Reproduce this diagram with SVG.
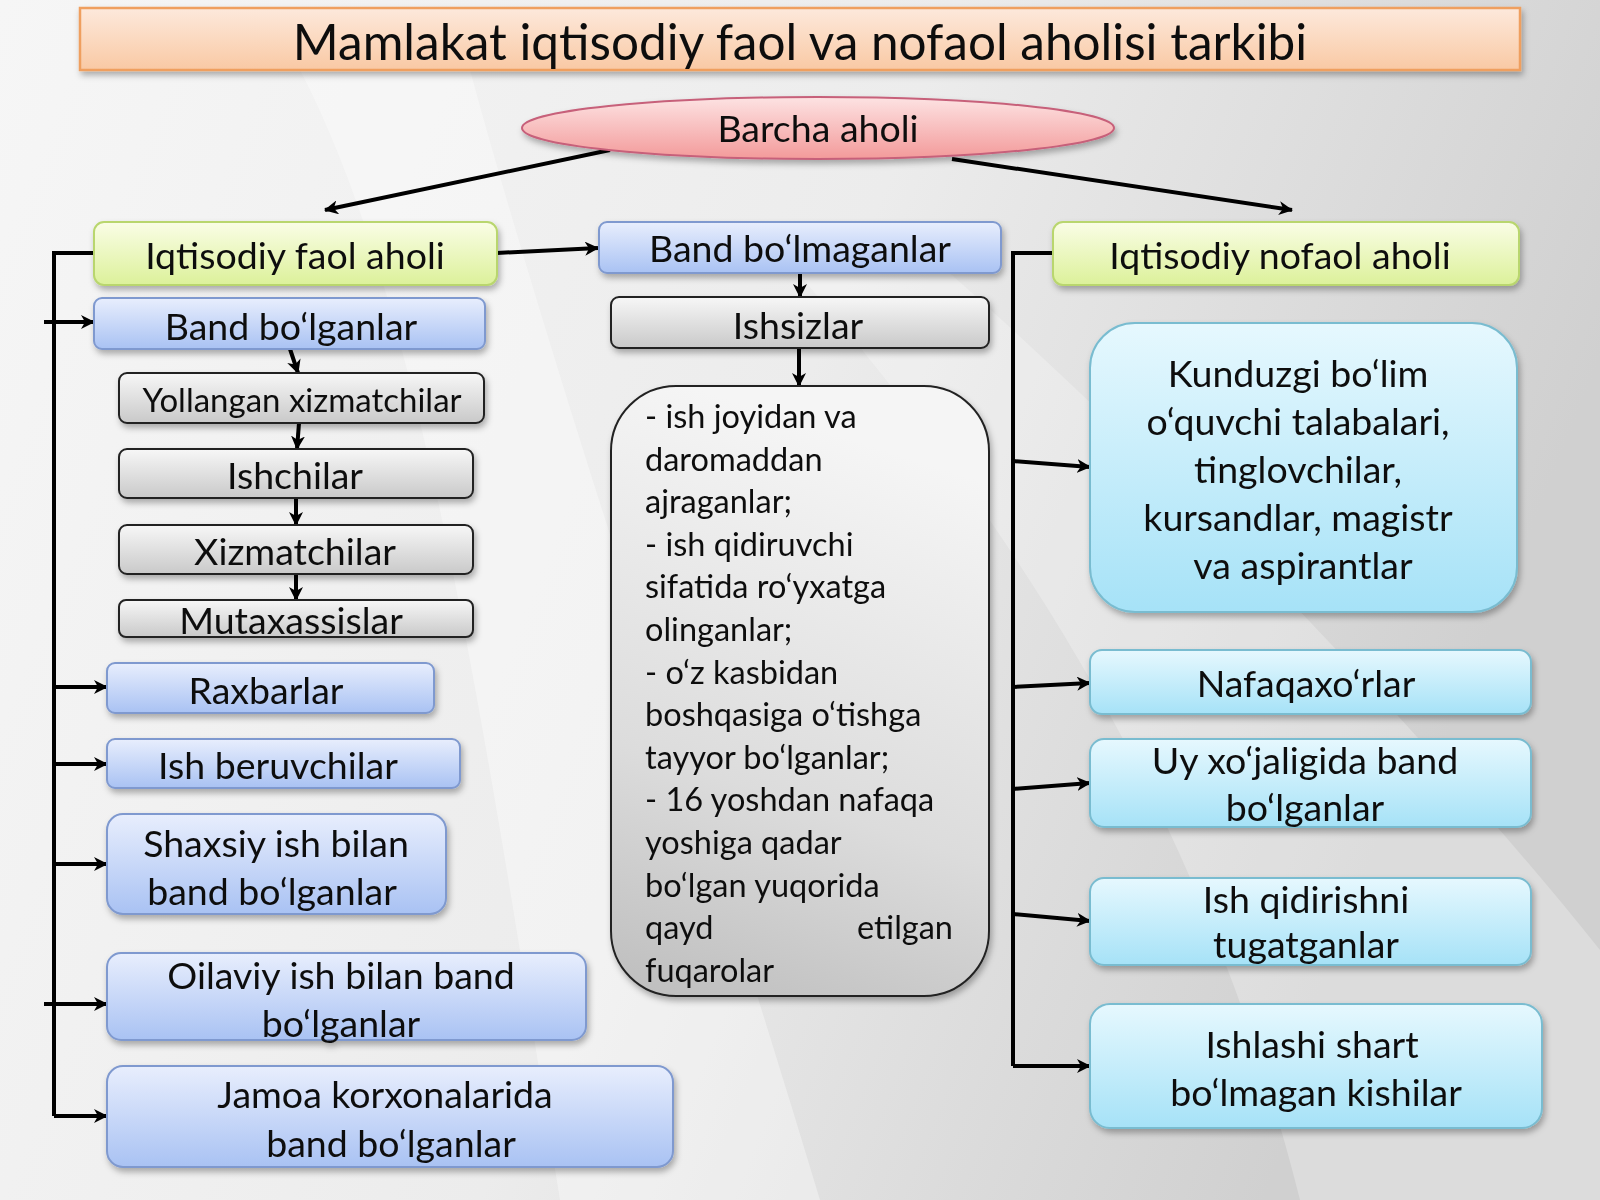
<svg xmlns="http://www.w3.org/2000/svg" width="1600" height="1200" viewBox="0 0 1600 1200">
<defs>
<linearGradient id="bg" x1="0" y1="0" x2="1" y2="0.3">
<stop offset="0" stop-color="#f6f6f6"/><stop offset="0.55" stop-color="#ececec"/><stop offset="1" stop-color="#d0d0d0"/>
</linearGradient>
<linearGradient id="gTitle" x1="0" y1="0" x2="0" y2="1"><stop offset="0" stop-color="#fde9dc"/><stop offset="1" stop-color="#f9c9a4"/></linearGradient>
<linearGradient id="gPink" x1="0" y1="0" x2="0" y2="1"><stop offset="0" stop-color="#fde3e3"/><stop offset="1" stop-color="#f39a9a"/></linearGradient>
<linearGradient id="gGreen" x1="0" y1="0" x2="0" y2="1"><stop offset="0" stop-color="#fafde6"/><stop offset="1" stop-color="#dcf19a"/></linearGradient>
<linearGradient id="gBlue" x1="0" y1="0" x2="0" y2="1"><stop offset="0" stop-color="#e8eefd"/><stop offset="1" stop-color="#a9c2f3"/></linearGradient>
<linearGradient id="gGray" x1="0" y1="0" x2="0" y2="1"><stop offset="0" stop-color="#f7f7f7"/><stop offset="1" stop-color="#c9c9c9"/></linearGradient>
<linearGradient id="gGrayBig" x1="0.2" y1="0" x2="0" y2="1"><stop offset="0" stop-color="#f5f5f5"/><stop offset="0.6" stop-color="#dcdcdc"/><stop offset="1" stop-color="#bdbdbd"/></linearGradient>
<linearGradient id="gCyan" x1="0" y1="0" x2="0" y2="1"><stop offset="0" stop-color="#e6f8fe"/><stop offset="1" stop-color="#a6e2f7"/></linearGradient>
<filter id="sh" x="-10%" y="-20%" width="120%" height="150%"><feDropShadow dx="2" dy="4" stdDeviation="3" flood-color="#000" flood-opacity="0.3"/></filter>
<marker id="ah" markerUnits="userSpaceOnUse" markerWidth="14" markerHeight="14" refX="13" refY="7" orient="auto"><path d="M0,0 L14,7 L0,14 L4,7 Z" fill="#000"/></marker>
<style>
.t{font-family:Lato,"Open Sans","Liberation Sans",sans-serif;fill:#111;text-anchor:middle}
.n{font-size:37.5px}
.s{font-size:33px}
.l{font-size:32.5px;text-anchor:start}
.c{stroke:#000;stroke-width:4;fill:none}
.a{stroke:#000;stroke-width:4;fill:none;marker-end:url(#ah)}
.green{fill:url(#gGreen);stroke:#b9d66e;stroke-width:2}
.blue{fill:url(#gBlue);stroke:#7f99cf;stroke-width:2}
.gray{fill:url(#gGray);stroke:#222;stroke-width:2}
.cyan{fill:url(#gCyan);stroke:#79bcd0;stroke-width:2}
</style>
</defs>
<rect width="1600" height="1200" fill="url(#bg)"/>
<path d="M300,70 C420,300 480,700 560,1200 L820,1200 C700,800 560,400 470,70 Z" fill="#ffffff" opacity="0.35"/>
<path d="M760,230 C1000,500 1200,800 1300,1200 L1600,1200 L1600,950 C1400,700 1100,400 900,230 Z" fill="#ffffff" opacity="0.25"/>

<g id="title" filter="url(#sh)">
<rect x="80" y="8" width="1440" height="62" fill="url(#gTitle)" stroke="#ef9f5f" stroke-width="2.5"/>
<text class="t" x="800" y="60" font-size="49.5">Mamlakat iqtisodiy faol va nofaol aholisi tarkibi</text>
</g>

<g id="connectors">
<line class="a" x1="610" y1="150" x2="325" y2="210"/>
<line class="a" x1="952" y1="159" x2="1292" y2="210"/>
<line class="a" x1="497" y1="253" x2="598" y2="248"/>
<path class="c" d="M94,253 H54 V1116"/>
<line class="a" x1="44" y1="322" x2="94" y2="322"/>
<line class="a" x1="54" y1="687" x2="107" y2="687"/>
<line class="a" x1="54" y1="764" x2="107" y2="764"/>
<line class="a" x1="54" y1="864" x2="107" y2="864"/>
<line class="a" x1="44" y1="1004" x2="107" y2="1004"/>
<path class="a" d="M54,1116 H107"/>
<line class="a" x1="290" y1="349" x2="298" y2="373"/>
<line class="a" x1="299" y1="423" x2="297" y2="449"/>
<line class="a" x1="296" y1="498" x2="296" y2="525"/>
<line class="a" x1="296" y1="574" x2="296" y2="600"/>
<line class="a" x1="800" y1="273" x2="800" y2="297"/>
<line class="a" x1="799" y1="348" x2="799" y2="386"/>
<path class="c" d="M1053,253 H1013 V1066"/>
<line class="a" x1="1013" y1="461" x2="1090" y2="467"/>
<line class="a" x1="1013" y1="687" x2="1090" y2="683"/>
<line class="a" x1="1013" y1="789" x2="1090" y2="783"/>
<line class="a" x1="1013" y1="914" x2="1090" y2="921"/>
<path class="a" d="M1013,1066 H1090"/>
</g>

<g id="barcha" filter="url(#sh)">
<ellipse cx="818" cy="128" rx="296" ry="31" fill="url(#gPink)" stroke="#c7607a" stroke-width="2"/>
<text class="t n" x="818" y="142">Barcha aholi</text>
</g>
<g id="faol" filter="url(#sh)">
<rect class="green" x="94" y="222" width="403" height="63" rx="10"/>
<text class="t n" x="295" y="269">Iqtisodiy faol aholi</text>
</g>
<g id="nofaol" filter="url(#sh)">
<rect class="green" x="1053" y="222" width="466" height="63" rx="10"/>
<text class="t n" x="1280" y="269">Iqtisodiy nofaol aholi</text>
</g>
<g id="bandbolmaganlar" filter="url(#sh)">
<rect class="blue" x="599" y="222" width="402" height="51" rx="8"/>
<text class="t n" x="800" y="262">Band bo‘lmaganlar</text>
</g>
<g id="bandbolganlar" filter="url(#sh)">
<rect class="blue" x="94" y="298" width="391" height="51" rx="8"/>
<text class="t n" x="291" y="340">Band bo‘lganlar</text>
</g>
<g id="yollangan" filter="url(#sh)">
<rect class="gray" x="119" y="373" width="365" height="50" rx="8"/>
<text class="t s" x="302" y="412">Yollangan xizmatchilar</text>
</g>
<g id="ishchilar" filter="url(#sh)">
<rect class="gray" x="119" y="449" width="354" height="49" rx="8"/>
<text class="t n" x="295" y="489">Ishchilar</text>
</g>
<g id="xizmatchilar" filter="url(#sh)">
<rect class="gray" x="119" y="525" width="354" height="49" rx="8"/>
<text class="t n" x="295" y="565">Xizmatchilar</text>
</g>
<g id="mutaxassislar" filter="url(#sh)">
<rect class="gray" x="119" y="600" width="354" height="37" rx="7"/>
<text class="t n" x="291" y="634">Mutaxassislar</text>
</g>
<g id="raxbarlar" filter="url(#sh)">
<rect class="blue" x="107" y="663" width="327" height="50" rx="8"/>
<text class="t n" x="266" y="704">Raxbarlar</text>
</g>
<g id="ishberuvchilar" filter="url(#sh)">
<rect class="blue" x="107" y="739" width="353" height="49" rx="8"/>
<text class="t n" x="278" y="779">Ish beruvchilar</text>
</g>
<g id="shaxsiy" filter="url(#sh)">
<rect class="blue" x="107" y="814" width="339" height="100" rx="16"/>
<text class="t n" x="276" y="857">Shaxsiy ish bilan</text>
<text class="t n" x="272" y="905">band bo‘lganlar</text>
</g>
<g id="oilaviy" filter="url(#sh)">
<rect class="blue" x="107" y="953" width="479" height="87" rx="14"/>
<text class="t n" x="341" y="989">Oilaviy ish bilan band</text>
<text class="t n" x="341" y="1037">bo‘lganlar</text>
</g>
<g id="jamoa" filter="url(#sh)">
<rect class="blue" x="107" y="1066" width="566" height="101" rx="16"/>
<text class="t n" x="385" y="1108">Jamoa korxonalarida</text>
<text class="t n" x="391" y="1157">band bo‘lganlar</text>
</g>
<g id="ishsizlar" filter="url(#sh)">
<rect class="gray" x="611" y="297" width="378" height="51" rx="8"/>
<text class="t n" x="798" y="339">Ishsizlar</text>
</g>
<g id="ishsizlar-tarkibi" filter="url(#sh)">
<rect x="611" y="386" width="378" height="610" rx="65" fill="url(#gGrayBig)" stroke="#222" stroke-width="2"/>
<text class="t l" x="645" y="428">- ish joyidan va</text>
<text class="t l" x="645" y="471">daromaddan</text>
<text class="t l" x="645" y="513">ajraganlar;</text>
<text class="t l" x="645" y="556">- ish qidiruvchi</text>
<text class="t l" x="645" y="598">sifatida ro‘yxatga</text>
<text class="t l" x="645" y="641">olinganlar;</text>
<text class="t l" x="645" y="684">- o‘z kasbidan</text>
<text class="t l" x="645" y="726">boshqasiga o‘tishga</text>
<text class="t l" x="645" y="769">tayyor bo‘lganlar;</text>
<text class="t l" x="645" y="811">- 16 yoshdan nafaqa</text>
<text class="t l" x="645" y="854">yoshiga qadar</text>
<text class="t l" x="645" y="897">bo‘lgan yuqorida</text>
<text class="t l" x="645" y="939">qayd</text>
<text class="t l" x="953" y="939" style="text-anchor:end">etilgan</text>
<text class="t l" x="645" y="982">fuqarolar</text>
</g>
<g id="kunduzgi" filter="url(#sh)">
<rect class="cyan" x="1090" y="323" width="427" height="289" rx="45"/>
<text class="t n" x="1298" y="387">Kunduzgi bo‘lim</text>
<text class="t n" x="1298" y="435">o‘quvchi talabalari,</text>
<text class="t n" x="1298" y="483">tinglovchilar,</text>
<text class="t n" x="1298" y="531">kursandlar, magistr</text>
<text class="t n" x="1303" y="579">va aspirantlar</text>
</g>
<g id="nafaqaxorlar" filter="url(#sh)">
<rect class="cyan" x="1090" y="650" width="441" height="64" rx="12"/>
<text class="t n" x="1306" y="697">Nafaqaxo‘rlar</text>
</g>
<g id="uyxojaligida" filter="url(#sh)">
<rect class="cyan" x="1090" y="739" width="441" height="88" rx="14"/>
<text class="t n" x="1305" y="774">Uy xo‘jaligida band</text>
<text class="t n" x="1305" y="821">bo‘lganlar</text>
</g>
<g id="ishqidirishni" filter="url(#sh)">
<rect class="cyan" x="1090" y="878" width="441" height="87" rx="14"/>
<text class="t n" x="1306" y="913">Ish qidirishni</text>
<text class="t n" x="1306" y="958">tugatganlar</text>
</g>
<g id="ishlashishart" filter="url(#sh)">
<rect class="cyan" x="1090" y="1004" width="452" height="124" rx="20"/>
<text class="t n" x="1312" y="1058">Ishlashi shart</text>
<text class="t n" x="1316" y="1106">bo‘lmagan kishilar</text>
</g>
</svg>
